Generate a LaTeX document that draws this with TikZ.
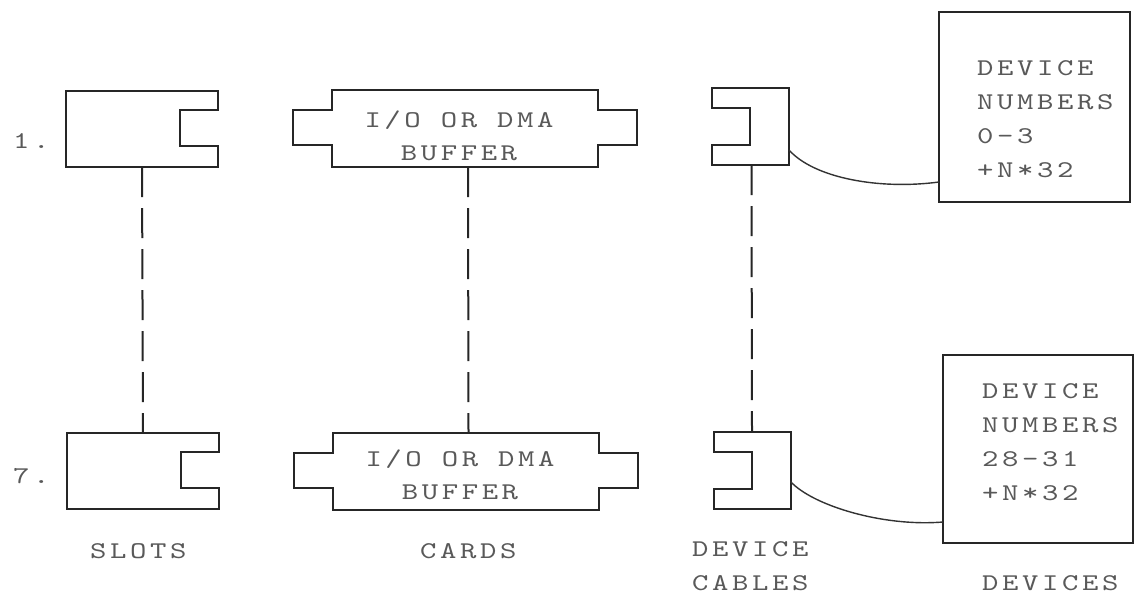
\documentclass[tikz,border=0pt]{standalone}
\usepackage{fontspec}
\usetikzlibrary{calc}
\newfontfamily\twfont{lmmono10-regular.otf}[FakeStretch=1.3, LetterSpace=15]
\begin{document}
\begin{tikzpicture}[x=1pt,y=-1pt,
  ln/.style={draw=black!85, line width=2pt, line join=miter},
  cable/.style={draw=black!80, line width=1.4pt},
  dashln/.style={draw=black!85, line width=2pt, dash pattern=on 30pt off 11pt},
  frame/.style={inner sep=0pt, outer sep=0pt, draw=none},
  devbox/.style={inner sep=0pt, outer sep=0pt, draw=black!85, line width=2pt},
  txt/.style={font=\twfont\fontsize{24}{34}\selectfont, text=black!65, inner sep=0pt, anchor=base west, align=left},
  ctxt/.style={font=\twfont\fontsize{24}{33}\selectfont, text=black!65, inner sep=0pt, anchor=base, align=center}]
\useasboundingbox[fill=white] (0,0) rectangle (1137,606);

% slots
\node[frame, minimum width=152pt, minimum height=76pt] (s1) at (142,129) {};
\node[frame, minimum width=152pt, minimum height=76pt] (s7) at (143,471) {};
\foreach \s in {s1,s7}{
  \draw[ln] (\s.north west) -- (\s.north east) -- ++(0,19) -- ++(-38,0) -- ++(0,36) -- ++(38,0) -- (\s.south east) -- (\s.south west) -- cycle;
}
% cards
\node[frame, minimum width=266pt, minimum height=77pt] (k1) at (465,128.5) {};
\node[frame, minimum width=266pt, minimum height=77pt] (k7) at (465.5,471.5) {};
\foreach \k in {k1,k7}{
  \draw[ln] (\k.north west) -- (\k.north east) -- ++(0,20) -- ++(39,0) -- ++(0,35) -- ++(-39,0) -- (\k.south east) -- (\k.south west) -- ++(0,-22) -- ++(-39,0) -- ++(0,-35) -- ++(39,0) -- cycle;
}
% cables
\node[frame, minimum width=77pt, minimum height=77pt] (c1) at (750.5,126.5) {};
\node[frame, minimum width=77pt, minimum height=77pt] (c7) at (752,470) {};
\foreach \c in {c1,c7}{
  \draw[ln] (\c.north east) -- (\c.south east) -- (\c.south west) -- ++(0,-20) -- ++(38,0) -- ++(0,-37) -- ++(-38,0) -- (\c.north west) -- cycle;
}
% devices
\node[devbox, minimum width=191pt, minimum height=190pt] (d1) at (1034.5,107) {};
\node[devbox, minimum width=190pt, minimum height=188pt] (d2) at (1038,449) {};

% vertical dashed connectors
\draw[dashln] (s1.south) -- (s7.north);
\draw[dashln] ($(k1.south)+(3,0)$) -- ($(k7.north)+(3,0)$);
\draw[dashln] ($(c1.south)+(1,0)$) -- (c7.north);

% cables to devices
\coordinate (c1o) at ($(c1.north east)+(0,62)$);
\coordinate (d1i) at ($(d1.north west)+(0,170)$);
\coordinate (c7o) at ($(c7.north east)+(0,50)$);
\coordinate (d2i) at ($(d2.north west)+(0,167)$);
\draw[cable] (c1o) .. controls +(25,28) and +(-60,8) .. (d1i);
\draw[cable] (c7o) .. controls +(22,24) and +(-60,5) .. (d2i);

% texts
\node[txt] (n1) at (13,148) {1.};
\node[txt] (n7) at (13,483) {7.};
\node[ctxt] (t1) at (459,160) {I/O OR DMA\\BUFFER};
\node[ctxt] (t7) at (460,499) {I/O OR DMA\\BUFFER};
\node[txt] (dt1) at (977,177) {DEVICE\\NUMBERS\\0-3\\+N*32};
\node[txt] (dt2) at (982,500) {DEVICE\\NUMBERS\\28-31\\+N*32};
\node[txt] (lslots) at (90,558) {SLOTS};
\node[txt] (lcards) at (420,558) {CARDS};
\node[txt] (lcables) at (692,590) {DEVICE\\CABLES};
\node[txt] (ldevices) at (982,590) {DEVICES};
\end{tikzpicture}
\end{document}
